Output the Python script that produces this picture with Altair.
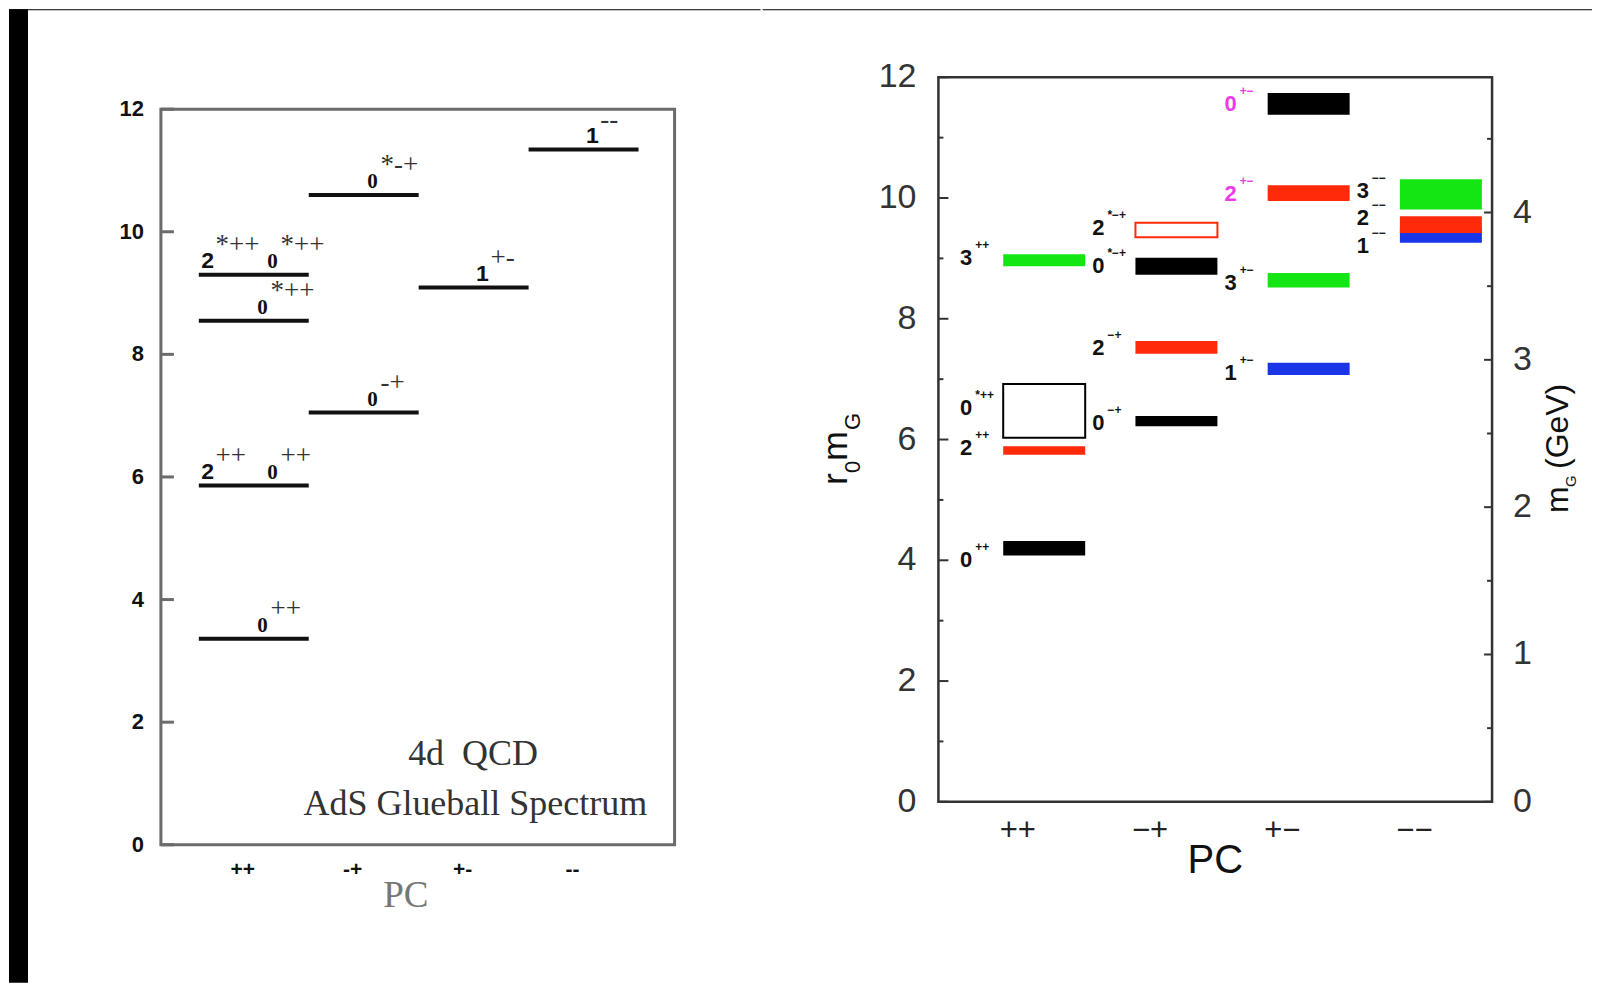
import altair as alt
import pandas as pd

# ===================== DATA =====================
# ---- Left panel: 4d QCD, AdS glueball spectrum ----
ads_pc_order = ["++", "-+", "+-", "--"]
ads_pc = ["++", "++", "++", "++", "-+", "-+", "+-", "--"]
ads_mass = [3.36, 5.86, 8.55, 9.30, 7.05, 10.60, 9.09, 11.34]
ads_spin = [["0"], ["2", "0"], ["0"], ["2", "0"], ["0"], ["0"], ["1"], ["1"]]
ads_sup = [["++"], ["++", "++"], ["*++"], ["*++", "*++"], ["-+"], ["*-+"], ["+-"], ["--"]]
ads_note = ["4d\u00a0\u00a0QCD", "AdS Glueball Spectrum"]
left_y_ticks = [0, 2, 4, 6, 8, 10, 12]

# ---- Right panel: lattice glueball spectrum (r0 mG) ----
lat_pc_order = ["++", "\u2212+", "+\u2212", "\u2212\u2212"]
lat_pc = ["++", "++", "++", "++",
          "\u2212+", "\u2212+", "\u2212+", "\u2212+",
          "+\u2212", "+\u2212", "+\u2212", "+\u2212",
          "\u2212\u2212", "\u2212\u2212", "\u2212\u2212"]
lat_spin = ["0", "2", "0", "3", "0", "2", "0", "2", "1", "3", "2", "0", "1", "2", "3"]
lat_star = [False, False, True, False, False, False, True, True,
            False, False, False, False, False, False, False]
lat_lo = [4.08, 5.75, 6.03, 8.87, 6.22, 7.42, 8.73, 9.35, 7.07, 8.52, 9.95, 11.38, 9.26, 9.42, 9.81]
lat_hi = [4.32, 5.89, 6.92, 9.07, 6.39, 7.63, 9.01, 9.59, 7.27, 8.76, 10.21, 11.74, 9.50, 9.70, 10.31]
lat_tentative = [False, False, True, False, False, False, False, True,
                 False, False, False, False, False, False, False]
lat_exotic = [False] * 10 + [True, True] + [False] * 3
lat_label_at = [4.00, 5.86, 6.52, 9.00, 6.27, 7.51, 8.87, 9.50, 7.10, 8.59, 10.06, 11.55, 9.20, 9.67, 10.11]
right_y_ticks = [0, 2, 4, 6, 8, 10, 12]
right_y_minor = [1, 3, 5, 7, 9, 11]
gev_ticks = [0, 1, 2, 3, 4]
gev_minor = [0.5, 1.5, 2.5, 3.5, 4.5]
R0_GEV = 2.44  # r0 in GeV^-1 : links the r0*mG and mG (GeV) scales

# ===================== LAYOUT / STYLE =====================
GREY = "#6b6b6b"
MAGENTA = "#e83ce8"
one = pd.DataFrame({"k": [0]})

# ----------------- left panel -----------------
L_W, L_H = 514, 768
L_XMAX, L_YMAX = 4.673, 12.52
L_START = 0.345
L_TICKX = 0.745
xL = alt.Scale(domain=[0, L_XMAX], nice=False, zero=False)
yL = alt.Scale(domain=[0, L_YMAX], nice=False, zero=False)

lev_rows, lab_rows = [], []
for pc, m, spins, sups in zip(ads_pc, ads_mass, ads_spin, ads_sup):
    i = ads_pc_order.index(pc)
    lev_rows.append({"x": i + L_START, "x2": i + L_START + 1.0, "m": m})
    fracs = [0.58] if len(spins) == 1 else [0.08, 0.67]
    for s, sp, f in zip(spins, sups, fracs):
        lab_rows.append({"x": i + L_START + f, "m": m, "spin": s, "sup": sp})
lev = pd.DataFrame(lev_rows)
lab = pd.DataFrame(lab_rows)


def XL(f):
    return alt.X(f, scale=xL, axis=None)


def YL(f):
    return alt.Y(f, scale=yL, axis=None)


frame_L = alt.Chart(pd.DataFrame({"x": [0.0], "x2": [L_XMAX], "y": [0.0], "y2": [12.0]})).mark_rect(
    filled=False, stroke=GREY, strokeWidth=3
).encode(x=XL("x:Q"), x2="x2", y=YL("y:Q"), y2="y2")

ticks_L = alt.Chart(pd.DataFrame({"y": left_y_ticks})).mark_rule(color=GREY, strokeWidth=3).encode(
    y=YL("y:Q"), x=alt.value(0), x2=alt.value(13))
ylab_L = alt.Chart(pd.DataFrame({"y": left_y_ticks})).mark_text(
    font="Liberation Sans", fontWeight="bold", fontSize=22, color="#111", align="right", baseline="middle"
).encode(y=YL("y:Q"), x=alt.value(-17), text="y:Q")
xlab_L = alt.Chart(pd.DataFrame({"pc": ads_pc_order, "i": list(range(4))})).transform_calculate(
    xv="datum.i + %f" % L_TICKX
).mark_text(
    font="Liberation Sans", fontWeight="bold", fontSize=21, color="#111", align="center", baseline="middle"
).encode(x=XL("xv:Q"), y=alt.value(L_H + 25), text="pc:N")
xtitle_L = alt.Chart(one).mark_text(
    text="PC", font="Liberation Serif", fontSize=37, color="#777777", align="center", baseline="middle"
).encode(x=alt.value(245), y=alt.value(L_H + 51))

levels_L = alt.Chart(lev).mark_rule(color="#111", strokeWidth=4).encode(
    x=XL("x:Q"), x2="x2", y=YL("m:Q"))

base_L0 = alt.Chart(lab).transform_filter("datum.spin == '0'").mark_text(
    font="Liberation Serif", fontWeight="bold", fontSize=21, baseline="alphabetic", align="center",
    dy=-7, color="#111").encode(x=XL("x:Q"), y=YL("m:Q"), text="spin:N")
base_L1 = alt.Chart(lab).transform_filter("datum.spin != '0'").mark_text(
    font="Liberation Sans", fontWeight="bold", fontSize=23, baseline="alphabetic", align="center",
    dy=-7, color="#111").encode(x=XL("x:Q"), y=YL("m:Q"), text="spin:N")
sup_L = alt.Chart(lab).mark_text(
    font="Liberation Serif", fontSize=27, baseline="alphabetic", align="left",
    dx=8, dy=-22, color="#333").encode(x=XL("x:Q"), y=YL("m:Q"), text="sup:N")

notes = pd.DataFrame({"t": ads_note, "x": [2.84, 2.86], "y": [1.48, 0.67]})
notes_L = alt.Chart(notes).mark_text(
    font="Liberation Serif", fontSize=36, color="#333", align="center", baseline="middle").encode(
    x=XL("x:Q"), y=YL("y:Q"), text="t:N")

strip_L = alt.Chart(one).mark_rect(color="black").encode(
    x=alt.value(-152), x2=alt.value(-133), y=alt.value(-68), y2=alt.value(906))
top_L = alt.Chart(one).mark_rect(color="black").encode(
    x=alt.value(-152), x2=alt.value(600), y=alt.value(-68), y2=alt.value(-67))

left = alt.layer(strip_L, top_L, frame_L, ticks_L, ylab_L, xlab_L, xtitle_L, levels_L,
                 base_L0, base_L1, sup_L, notes_L).properties(width=L_W, height=L_H)

# ----------------- right panel -----------------
R_W, R_H = 554, 725
R_XMAX = 4.187
R_START, R_BARW = 0.49, 0.62
R_TICKX = 0.6
xR = alt.Scale(domain=[0, R_XMAX], nice=False, zero=False)
yR = alt.Scale(domain=[0, 12], nice=False, zero=False)
gR = alt.Scale(domain=[0, 12 / R0_GEV], nice=False, zero=False)


def XR(f):
    return alt.X(f, scale=xR, axis=None)


def YR(f):
    return alt.Y(f, scale=yR, axis=None)


bars = pd.DataFrame({
    "pc": lat_pc, "spin": lat_spin, "lo": lat_lo, "hi": lat_hi,
    "tent": lat_tentative, "exotic": lat_exotic, "lab": lat_label_at,
})
bars["x"] = [lat_pc_order.index(p) + R_START for p in lat_pc]
bars["x2"] = bars["x"] + R_BARW
bars["sup"] = [("*" if s else "") + p for s, p in zip(lat_star, lat_pc)]

jcol = alt.Scale(domain=["0", "1", "2", "3"], range=["#000000", "#1a35e8", "#ff2a0a", "#14e614"])

frame_R = alt.Chart(pd.DataFrame({"x": [0.0], "x2": [R_XMAX], "y": [0.0], "y2": [12.0]})).mark_rect(
    filled=False, stroke="#333", strokeWidth=2.5
).encode(x=XR("x:Q"), x2="x2", y=YR("y:Q"), y2="y2")

tmaj_R = alt.Chart(pd.DataFrame({"y": right_y_ticks})).mark_rule(color="#333", strokeWidth=2).encode(
    y=YR("y:Q"), x=alt.value(0), x2=alt.value(10))
tmin_R = alt.Chart(pd.DataFrame({"y": right_y_minor})).mark_rule(color="#333", strokeWidth=2).encode(
    y=YR("y:Q"), x=alt.value(0), x2=alt.value(5))
ylab_R = alt.Chart(pd.DataFrame({"y": right_y_ticks})).mark_text(
    font="Liberation Sans", fontSize=34, color="#333", align="right", baseline="middle"
).encode(y=YR("y:Q"), x=alt.value(-22), text="y:Q")
xlab_R = alt.Chart(pd.DataFrame({"pc": lat_pc_order, "i": list(range(4))})).transform_calculate(
    xv="datum.i + %f" % R_TICKX
).mark_text(
    font="Liberation Sans", fontSize=31, color="#222", align="center", baseline="middle"
).encode(x=XR("xv:Q"), y=alt.value(R_H + 29), text="pc:N")
xtitle_R = alt.Chart(one).mark_text(
    text="PC", font="Liberation Sans", fontSize=40, color="#111", align="center", baseline="middle"
).encode(x=alt.value(R_W / 2), y=alt.value(R_H + 59))

solid_R = alt.Chart(bars).transform_filter("!datum.tent").mark_rect().encode(
    x=XR("x:Q"), x2="x2", y=YR("lo:Q"), y2="hi",
    color=alt.Color("spin:N", scale=jcol, legend=None))
dashed_R = alt.Chart(bars).transform_filter("datum.tent").mark_rect(filled=False, strokeWidth=2).encode(
    x=XR("x:Q"), x2="x2", y=YR("lo:Q"), y2="hi",
    color=alt.Color("spin:N", scale=jcol, legend=None),
    strokeDash=alt.StrokeDash("spin:N", scale=alt.Scale(domain=["0", "2"], range=[[6, 2, 2, 2], [3, 2]]),
                              legend=None))

lab_color = alt.condition("datum.exotic", alt.value(MAGENTA), alt.value("#111"))
base_R = alt.Chart(bars).mark_text(
    font="Liberation Sans", fontWeight="bold", fontSize=22, align="center", baseline="middle", dx=-37
).encode(x=XR("x:Q"), y=YR("lab:Q"), text="spin:N", color=lab_color)
sup_R = alt.Chart(bars).mark_text(
    font="Liberation Sans", fontWeight="bold", fontSize=12, align="left", baseline="middle", dx=-28, dy=-13
).encode(x=XR("x:Q"), y=YR("lab:Q"), text="sup:N", color=lab_color)


def piece(txt, size, px, py):
    return alt.Chart(one).mark_text(
        text=txt, fontSize=size, angle=270, align="left", baseline="alphabetic",
        font="Liberation Sans", color="#111").encode(x=alt.value(px), y=alt.value(py))


ytitle = [piece("r", 36, -91, 408), piece("0", 22, -78, 396), piece("m", 36, -91, 384), piece("G", 22, -78, 353)]
gtitle = [piece("m", 32, 630, 436), piece("G", 15, 638, 410), piece("(GeV)", 32, 630, 392)]

top_R = alt.Chart(one).mark_rect(color="black").encode(
    x=alt.value(-176), x2=alt.value(654), y=alt.value(-68), y2=alt.value(-67))

main_R = alt.layer(top_R, frame_R, tmaj_R, tmin_R, ylab_R, xlab_R, xtitle_R, solid_R, dashed_R,
                   base_R, sup_R, *ytitle, *gtitle)

gmaj = alt.Chart(pd.DataFrame({"g": gev_ticks})).mark_rule(color="#333", strokeWidth=2).encode(
    y=alt.Y("g:Q", scale=gR, axis=None), x=alt.value(R_W), x2=alt.value(R_W - 8))
gmin = alt.Chart(pd.DataFrame({"g": gev_minor})).mark_rule(color="#333", strokeWidth=2).encode(
    y=alt.Y("g:Q", scale=gR, axis=None), x=alt.value(R_W), x2=alt.value(R_W - 5))
glab = alt.Chart(pd.DataFrame({"g": gev_ticks})).mark_text(
    font="Liberation Sans", fontSize=34, color="#333", align="left", baseline="middle"
).encode(y=alt.Y("g:Q", scale=gR, axis=None), x=alt.value(R_W + 21), text="g:Q")
gev_R = alt.layer(gmaj, gmin, glab)

right = alt.layer(main_R, gev_R).resolve_scale(y="independent").properties(width=R_W, height=R_H)

chart = alt.hconcat(left, right, spacing=0, padding=0).configure_view(stroke="transparent")

chart.save("out.html", embed_options={"renderer": "svg", "actions": False})
